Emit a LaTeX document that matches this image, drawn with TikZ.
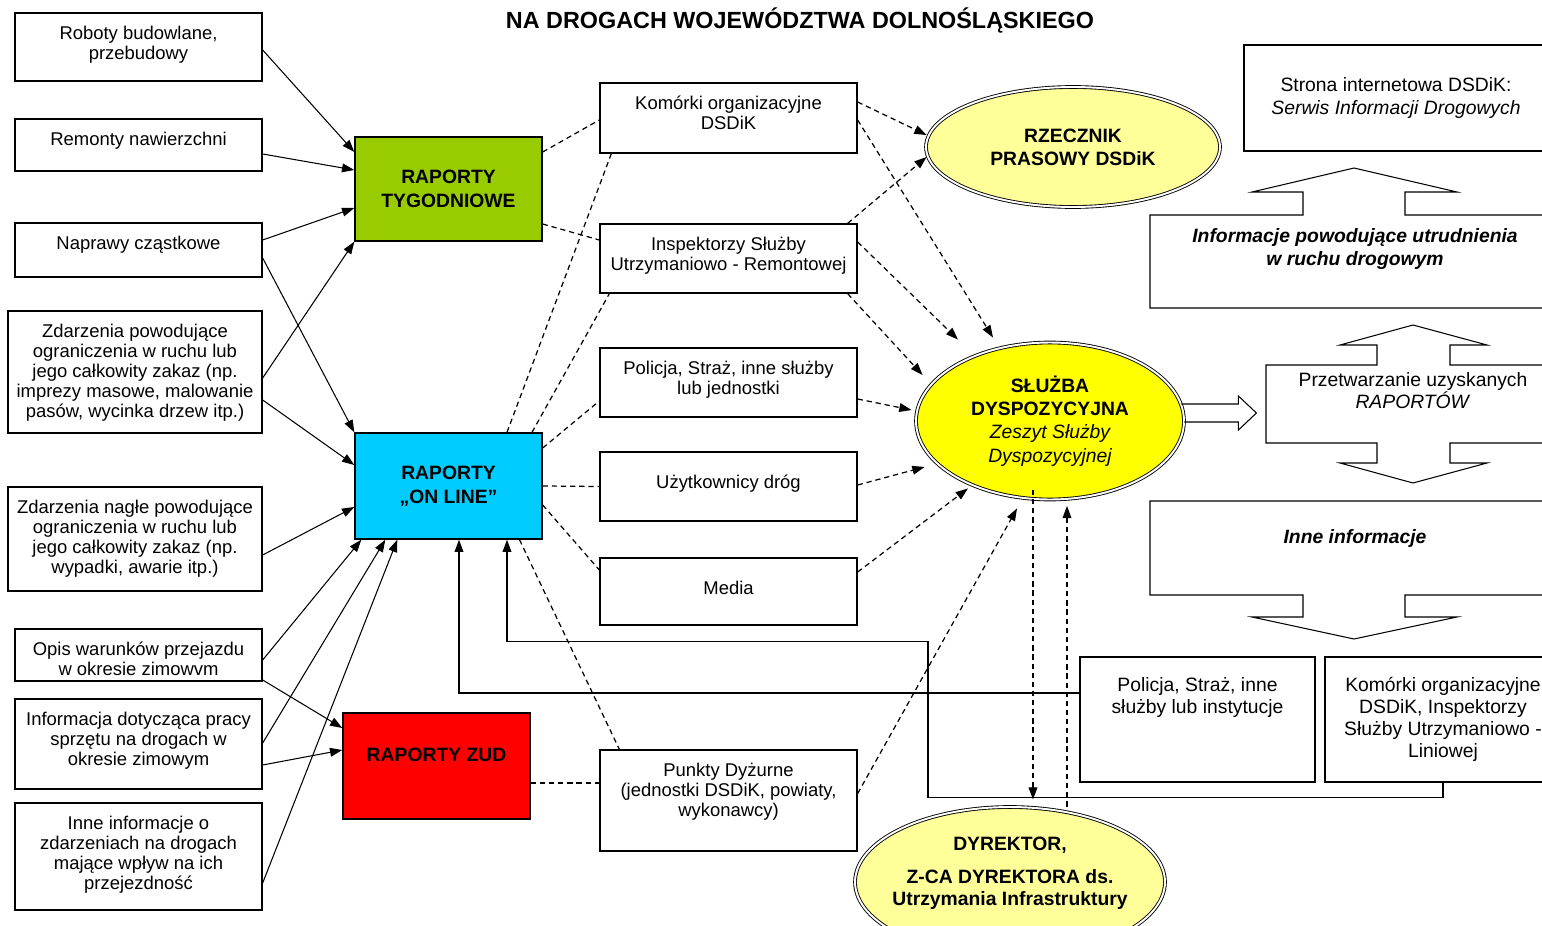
\documentclass[tikz,border=0pt]{standalone}
\usepackage{fontspec}
\setmainfont{Liberation Sans}
\usetikzlibrary{arrows.meta, calc, shapes.geometric}
\definecolor{tygreen}{RGB}{153,204,0}
\definecolor{oncyan}{RGB}{0,204,255}
\definecolor{zudred}{RGB}{255,0,0}
\definecolor{paley}{RGB}{255,255,153}
\definecolor{dispy}{RGB}{255,255,0}
\tikzset{
  box/.style={draw, line width=0.8pt, inner sep=0pt},
  lbl/.style={font=\fontsize{10.5}{11.4}\selectfont, align=center, anchor=north, inner sep=0pt, yshift=-0.26cm},
  rlbl/.style={font=\fontsize{11}{12.6}\selectfont, align=center, anchor=north, inner sep=0pt, yshift=-0.42cm},
  toptext/.style={label={[lbl]north:{#1}}},
  lowtext/.style={label={[lbl, yshift=-0.2cm]north:{#1}}},
  rtoptext/.style={label={[rlbl]north:{#1}}},
  rep/.style={box, minimum width=3.74cm, font=\fontsize{11}{13.7}\selectfont\bfseries, align=center},
  ell/.style={ellipse, draw, double, double distance=1.1pt, line width=0.5pt, inner sep=0pt, font=\fontsize{11}{13.2}\selectfont\bfseries, align=center},
  rtext/.style={font=\fontsize{11}{12.6}\selectfont, align=center},
  arr/.style={-{Triangle[length=7pt,width=5pt]}, line width=0.6pt},
  dsh/.style={dash pattern=on 3pt off 2.2pt, line width=0.7pt},
  darr/.style={dsh, -{Triangle[length=7pt,width=5pt]}},
  bigarr/.style={line width=0.6pt, line join=miter},
}
\begin{document}
\begin{tikzpicture}[x=0.02cm, y=-0.02cm]
\useasboundingbox (0,0) rectangle (1542,926);
\clip (0,0) rectangle (1542,926);
\node[font=\fontsize{13.3}{16}\selectfont\bfseries] (title) at (800,21) {NA DROGACH WOJEWÓDZTWA DOLNOŚLĄSKIEGO};

% zrodla informacji
\node[box, minimum width=4.94cm, minimum height=1.36cm, toptext={Roboty budowlane,\\ przebudowy}] (rob) at (138.5,47) {};
\node[box, minimum width=4.94cm, minimum height=1.04cm, toptext={Remonty nawierzchni}] (rem) at (138.5,145) {};
\node[box, minimum width=4.94cm, minimum height=1.08cm, toptext={Naprawy cząstkowe}] (nap) at (138.5,250) {};
\node[box, minimum width=5.08cm, minimum height=2.44cm, toptext={Zdarzenia powodujące\\ ograniczenia w ruchu lub\\ jego całkowity zakaz (np.\\ imprezy masowe, malowanie\\ pasów, wycinka drzew itp.)}] (zda) at (135,372) {};
\node[box, minimum width=5.08cm, minimum height=2.08cm, toptext={Zdarzenia nagłe powodujące\\ ograniczenia w ruchu lub\\ jego całkowity zakaz (np.\\ wypadki, awarie itp.)}] (nag) at (135,539) {};
\node[box, minimum width=4.94cm, minimum height=1.04cm, toptext={Opis warunków przejazdu\\ w okresie zimowvm}] (opis) at (138.5,655) {};
\node[box, minimum width=4.94cm, minimum height=1.8cm, toptext={Informacja dotycząca pracy\\ sprzętu na drogach w\\ okresie zimowym}] (info) at (138.5,744) {};
\node[box, minimum width=4.94cm, minimum height=2.14cm, toptext={Inne informacje o\\ zdarzeniach na drogach\\ mające wpływ na ich\\ przejezdność}] (inne) at (138.5,856.5) {};

% raporty
\node[rep, fill=tygreen, minimum height=2.08cm] (tyg) at (448.5,189) {RAPORTY\\ TYGODNIOWE};
\node[rep, fill=oncyan, minimum height=2.12cm] (onl) at (448.5,486) {RAPORTY\\ „ON LINE”};
\node[rep, fill=zudred, minimum height=2.12cm, text depth=0.45cm] (zud) at (436.5,766) {RAPORTY ZUD};

% jednostki
\node[box, minimum width=5.14cm, minimum height=1.4cm, toptext={Komórki organizacyjne\\ DSDiK}] (kom) at (728.5,118) {};
\node[box, minimum width=5.14cm, minimum height=1.38cm, toptext={Inspektorzy Służby\\ Utrzymaniowo - Remontowej}] (insp) at (728.5,258.5) {};
\node[box, minimum width=5.14cm, minimum height=1.38cm, toptext={Policja, Straż, inne służby\\ lub jednostki}] (pol) at (728.5,382.5) {};
\node[box, minimum width=5.14cm, minimum height=1.38cm, lowtext={Użytkownicy dróg}] (uzyt) at (728.5,486.5) {};
\node[box, minimum width=5.14cm, minimum height=1.34cm, lowtext={Media}] (media) at (728.5,591.5) {};
\node[box, minimum width=5.14cm, minimum height=2.02cm, toptext={Punkty Dyżurne\\ (jednostki DSDiK, powiaty,\\ wykonawcy)}] (punkty) at (728.5,800.5) {};

% odbiorcy
\node[ell, fill=paley, minimum width=5.88cm, minimum height=2.4cm] (rz) at (1073,147) {RZECZNIK\\ PRASOWY DSDiK};
\node[ell, fill=dispy, minimum width=5.36cm, minimum height=3.14cm] (sl) at (1050,421) {SŁUŻBA\\ DYSPOZYCYJNA\\ {\mdseries\itshape Zeszyt Służby}\\ {\mdseries\itshape Dyspozycyjnej}};
\node[ell, fill=paley, minimum width=6.2cm, minimum height=3cm, label={[font=\fontsize{11}{12.6}\selectfont\bfseries, align=center, yshift=0.18cm]center:{DYREKTOR,\\[6pt] Z-CA DYREKTORA ds.\\ Utrzymania Infrastruktury}}] (dyr) at (1010,882) {};

% przetwarzanie
\node[box, rtext, minimum width=6.08cm, minimum height=2.12cm] (www) at (1396,98) {Strona internetowa DSDiK:\\ \textit{Serwis Informacji Drogowych}};
\draw[bigarr] (1600,215) -- (1405,215) -- (1405,192) -- (1457,192) -- (1354,168) -- (1252,192) -- (1303,192) -- (1303,215) -- (1150,215) -- (1150,308) -- (1600,308);
\node[rtext, font=\fontsize{11}{12.6}\selectfont\bfseries\itshape] (utr) at (1355,249) {Informacje powodujące utrudnienia\\ w ruchu drogowym};
\draw[bigarr] (1600,365) -- (1450,365) -- (1450,345) -- (1487,345) -- (1413,325) -- (1340,345) -- (1377,345) -- (1377,365) -- (1266,365) -- (1266,443) -- (1377,443) -- (1377,463) -- (1340,463) -- (1413,483) -- (1487,463) -- (1450,463) -- (1450,443) -- (1600,443);
\node[rtext] (proc) at (1413,391) {Przetwarzanie uzyskanych\\ \textit{RAPORTÓW}};
\draw[bigarr] (1600,501) -- (1150,501) -- (1150,595) -- (1303,595) -- (1303,617) -- (1252,617) -- (1354,639) -- (1457,617) -- (1405,617) -- (1405,595) -- (1600,595);
\node[rtext, font=\fontsize{11}{12.6}\selectfont\bfseries\itshape] (inf) at (1355,538) {Inne informacje};
\node[box, minimum width=4.7cm, minimum height=2.5cm, rtoptext={Policja, Straż, inne\\ służby lub instytucje}] (pol2) at (1197.5,719.5) {};
\node[box, rtext, minimum width=4.72cm, minimum height=2.5cm] (kom2) at (1443,719.5) {Komórki organizacyjne\\ DSDiK, Inspektorzy\\ Służby Utrzymaniowo -\\ Liniowej};
\draw[bigarr] ($(sl.east)+(-3,-17)$) -- ++(57,0) -- ++(0,-8) -- ++(18,17) -- ++(-18,17) -- ++(0,-8) -- ($(sl.east)+(0,1)$);

% polaczenia ciagle
\draw[arr] ($(rob.east)+(0,3)$) -- ($(tyg.west)+(0,-37)$);
\draw[arr] ($(rem.east)+(0,9)$) -- ($(tyg.west)+(0,-19)$);
\draw[arr] ($(nap.east)+(0,-10)$) -- ($(tyg.west)+(0,19)$);
\draw[arr] ($(zda.east)+(0,6)$) -- (tyg.south west);
\draw[arr] ($(nap.east)+(0,8)$) -- (onl.north west);
\draw[arr] ($(zda.east)+(0,28)$) -- ($(onl.west)+(0,-21)$);
\draw[arr] ($(nag.east)+(0,16)$) -- ($(onl.west)+(0,21)$);
\draw[arr] ($(opis.east)+(0,5)$) -- ($(onl.south west)+(7,0)$);
\draw[arr] ($(info.east)+(0,-1)$) -- ($(onl.south west)+(31,0)$);
\draw[arr] ($(inne.east)+(0,26.5)$) -- ($(onl.south west)+(43,0)$);
\draw[arr] ($(opis.east)+(0,25)$) -- ($(zud.west)+(0,-38)$);
\draw[arr] ($(info.east)+(0,21)$) -- ($(zud.west)+(0,-16)$);
\draw[arr] ($(pol2.west)+(0,-26.5)$) -| ($(onl.south)+(10.5,0)$);
\draw[arr] (kom2.south) -- ++(0,15) -- ++(-515,0) -- ++(0,-156) -| ($(onl.south)+(58.5,0)$);

% polaczenia przerywane
\draw[dsh] ($(tyg.east)+(0,-37)$) -- ($(kom.west)+(0,2)$);
\draw[dsh] ($(tyg.east)+(0,35)$) -- ($(insp.west)+(0,-18.5)$);
\draw[dsh] ($(onl.north)+(58.5,0)$) -- ($(kom.south west)+(12,0)$);
\draw[dsh] ($(onl.north)+(83.5,0)$) -- ($(insp.south west)+(10,0)$);
\draw[dsh] ($(onl.east)+(0,-38)$) -- ($(pol.west)+(0,18.5)$);
\draw[dsh] (onl.east) -- (uzyt.west);
\draw[dsh] ($(onl.east)+(0,19)$) -- ($(media.west)+(0,-21.5)$);
\draw[dsh] ($(onl.south)+(71,0)$) -- ($(punkty.north west)+(20,0)$);
\draw[dsh] ($(zud.east)+(0,17)$) -- ($(punkty.west)+(0,-17.5)$);
\draw[darr] ($(kom.east)+(0,-16)$) -- ($(rz.west)+(1,-12)$);
\draw[darr] ($(insp.north east)+(-10,0)$) -- ($(rz.west)+(1,10)$);
\draw[darr] ($(kom.east)+(0,2)$) -- ($(sl.north)+(-57,-4.5)$);
\draw[darr] ($(insp.east)+(0,-16.5)$) -- ($(sl.north)+(-92,-2.5)$);
\draw[darr] ($(insp.south east)+(-10,0)$) -- ($(sl.west)+(7,-46)$);
\draw[darr] ($(pol.east)+(0,16.5)$) -- ($(sl.west)+(-4,-11)$);
\draw[darr] ($(uzyt.east)+(0,-1.5)$) -- ($(sl.west)+(9,46)$);
\draw[darr] ($(media.east)+(0,-19.5)$) -- ($(sl.south)+(-82,-11.5)$);
\draw[darr] ($(punkty.east)+(0,-7)$) -- ($(sl.south)+(-33,8.5)$);
\draw[darr] ($(sl.south)+(-17,-10)$) -- ($(dyr.north)+(23,-7)$);
\draw[darr] ($(dyr.north)+(57,0)$) -- ($(sl.south)+(17,6)$);
\end{tikzpicture}
\end{document}
